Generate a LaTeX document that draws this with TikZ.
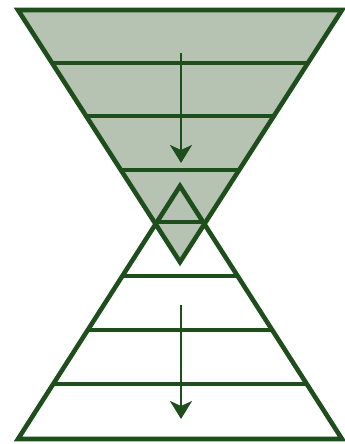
\documentclass[tikz,border=0pt]{standalone}
\usetikzlibrary{arrows.meta}

\definecolor{hgreen}{RGB}{30,78,27}
\definecolor{hshade}{RGB}{182,195,178}

\begin{document}
\begin{tikzpicture}[x=1pt, y=-1pt,
  %% triangle outlines
  tri/.style={draw=hgreen, line width=4.6pt, line join=miter},
  %% band lines inside the triangles
  band/.style={draw=hgreen, line width=3.6pt},
  %% flow arrows
  arr/.style={-{Stealth[length=18pt,width=22pt,inset=5pt]}, draw=hgreen, fill=hgreen, line width=2.6pt}
]
\useasboundingbox (0,0) rectangle (345,444);

%% ================================================================
%% CORNERS
%% ================================================================
\coordinate (topL)  at (18,10);
\coordinate (topR)  at (342,10);
\coordinate (topV)  at (180,262);
\coordinate (botL)  at (18,439);
\coordinate (botR)  at (342,439);
\coordinate (botV)  at (180,186);

%% ================================================================
%% FILLS (lower white, upper shaded on top)
%% ================================================================
\fill[white] (botV) -- (botL) -- (botR) -- cycle;
\fill[hshade] (topL) -- (topR) -- (topV) -- cycle;

%% ================================================================
%% BANDS
%% ================================================================
\begin{scope}
  \clip (topL) -- (topR) -- (topV) -- cycle;
  \foreach \y in {63,116,170,222}
    \draw[band] (0,\y) -- (345,\y);
\end{scope}

\begin{scope}
  \clip (botV) -- (botL) -- (botR) -- cycle;
  \foreach \y in {276,330,384}
    \draw[band] (0,\y) -- (345,\y);
\end{scope}

%% ================================================================
%% OUTLINES
%% ================================================================
\draw[tri] (botV) -- (botL) -- (botR) -- cycle;
\draw[tri] (topL) -- (topR) -- (topV) -- cycle;

%% ================================================================
%% ARROWS
%% ================================================================
\coordinate (upfrom) at (181,53);
\coordinate (upto)   at (181,163);
\coordinate (lofrom) at (181,305);
\coordinate (loto)   at (181,419);

\draw[arr] (upfrom) -- (upto);
\draw[arr] (lofrom) -- (loto);

\end{tikzpicture}
\end{document}
